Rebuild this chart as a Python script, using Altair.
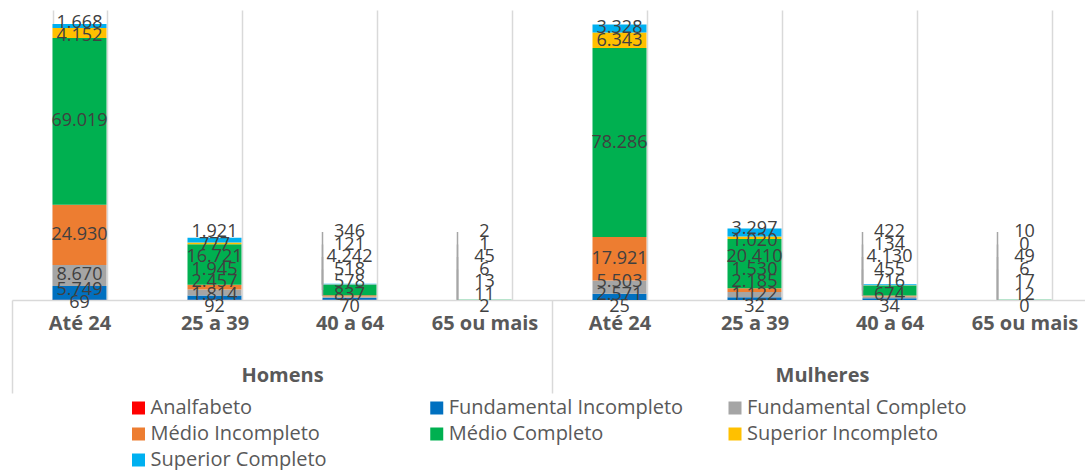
import altair as alt
import pandas as pd

# ---- data -------------------------------------------------------------
groups = ["Homens", "Mulheres"]
ages = ["Até 24", "25 a 39", "40 a 64", "65 ou mais"]
levels = [
    "Analfabeto",
    "Fundamental Incompleto",
    "Fundamental Completo",
    "Médio Incompleto",
    "Médio Completo",
    "Superior Incompleto",
    "Superior Completo",
]
colors = ["#FF0000", "#0070C0", "#A5A5A5", "#ED7D31", "#00B050", "#FFC000", "#00B0F0"]

# values per age bracket, in the order of `levels`
homens_ate24 = [69, 5749, 8670, 24930, 69019, 4152, 1668]
homens_25_39 = [92, 1814, 2457, 1945, 16721, 777, 1921]
homens_40_64 = [70, 837, 578, 518, 4242, 121, 346]
homens_65 = [2, 11, 13, 6, 45, 1, 2]

mulheres_ate24 = [25, 2571, 5503, 17921, 78286, 6343, 3328]
mulheres_25_39 = [32, 1122, 2185, 1530, 20410, 1020, 3297]
mulheres_40_64 = [34, 674, 716, 455, 4130, 134, 422]
mulheres_65 = [0, 12, 17, 6, 49, 0, 10]

series = {
    "Homens": [homens_ate24, homens_25_39, homens_40_64, homens_65],
    "Mulheres": [mulheres_ate24, mulheres_25_39, mulheres_40_64, mulheres_65],
}

# ---- layout -------------------------------------------------------------
PLOT_W = 1080         # the last few pixels run past the right edge of the view
PLOT_H = 290
Y_MAX = 120000
LABEL_GAP = 12.5      # minimum vertical distance between labels (px)
LABEL_FLOOR = -7      # lowest label centre, relative to the baseline (px)
LEADER_MIN = 25       # draw a leader line when a label moved further than this (px)
LEGEND_COLS = 3
FONT = "Open Sans"
AXIS_GREY = "#595959"
LINE_GREY = "#d9d9d9"

px_per_unit = PLOT_H / Y_MAX


def fmt(v):
    return f"{v:,}".replace(",", ".")


def spread_labels(ideal, gap, floor):
    """Least-squares placement keeping labels `gap` apart and above `floor`."""
    q = [v - i * gap for i, v in enumerate(ideal)]
    blocks = []
    for v in q:
        blocks.append([v, 1])
        while len(blocks) > 1 and blocks[-2][0] / blocks[-2][1] > blocks[-1][0] / blocks[-1][1]:
            s, c = blocks.pop()
            blocks[-1][0] += s
            blocks[-1][1] += c
    out = []
    for s, c in blocks:
        out += [max(s / c, floor)] * c
    return [v + i * gap for i, v in enumerate(out)]


rows = []
keys = []
for g in groups:
    for a, vals in zip(ages, series[g]):
        key = f"{g}|{a}"
        keys.append(key)
        base = 0
        mids = []
        for v in vals:
            mids.append((base + v / 2) * px_per_unit)
            base += v
        placed = spread_labels(mids, LABEL_GAP, LABEL_FLOOR)
        for rank, (lvl, v, m, p) in enumerate(zip(levels, vals, mids, placed)):
            rows.append(
                dict(
                    key=key,
                    group=g,
                    age=a,
                    level=lvl,
                    rank=rank,
                    value=v,
                    label=fmt(v),
                    ideal_y=m / px_per_unit,
                    label_y=p / px_per_unit,
                    leader=abs(p - m) > LEADER_MIN,
                )
            )

df = pd.DataFrame(rows)
leaders = df[df["leader"]]
group_df = pd.DataFrame({"group": groups})
legend_df = pd.DataFrame(
    {
        "level": levels,
        "col": [i % LEGEND_COLS for i in range(len(levels))],
        "row": [i // LEGEND_COLS for i in range(len(levels))],
    }
)

x_scale = alt.Scale(domain=keys, paddingInner=0.6, paddingOuter=0.3)
y_scale = alt.Scale(domain=[0, Y_MAX], nice=False, zero=True)
color_scale = alt.Scale(domain=levels, range=colors)

x_axis = alt.Axis(
    title=None,
    labelExpr="split(datum.label, '|')[1]",
    labelAngle=0,
    labelFont=FONT,
    labelFontSize=20,
    labelFontWeight="bold",
    labelColor=AXIS_GREY,
    labelPadding=13,
    tickBand="extent",
    ticks=False,
    grid=True,
    gridColor=LINE_GREY,
    gridWidth=1.5,
    domainColor=LINE_GREY,
    domainWidth=1.5,
)

bars = (
    alt.Chart(df)
    .mark_bar()
    .encode(
        x=alt.X("key:N", scale=x_scale, axis=x_axis, sort=keys),
        y=alt.Y("value:Q", stack="zero", scale=y_scale, axis=None),
        color=alt.Color("level:N", scale=color_scale, legend=None),
        order=alt.Order("rank:Q", sort="ascending"),
    )
)

labels = (
    alt.Chart(df)
    .mark_text(font=FONT, fontSize=18, color="#404040", baseline="middle")
    .encode(
        x=alt.X("key:N", scale=x_scale, axis=x_axis, sort=keys),
        y=alt.Y("label_y:Q", scale=y_scale, axis=None),
        text="label:N",
    )
)

leader_lines = (
    alt.Chart(leaders)
    .mark_rule(color="#a6a6a6", strokeWidth=1.5)
    .encode(
        x=alt.X("key:N", scale=x_scale, axis=x_axis, sort=keys, bandPosition=0),
        y=alt.Y("label_y:Q", scale=y_scale, axis=None),
        y2="ideal_y:Q",
    )
)

# outer category level: Homens / Mulheres with long separators
group_axis = (
    alt.Chart(group_df)
    .mark_point(opacity=0)
    .encode(
        x=alt.X(
            "group:N",
            sort=groups,
            scale=alt.Scale(domain=groups, paddingInner=0, paddingOuter=0),
            axis=alt.Axis(
                orient="bottom",
                title=None,
                labelAngle=0,
                labelFont=FONT,
                labelFontSize=20,
                labelFontWeight="bold",
                labelColor=AXIS_GREY,
                tickBand="extent",
                ticks=True,
                tickSize=93,
                tickColor=LINE_GREY,
                tickWidth=1.5,
                labelPadding=-28,
                domain=False,
                grid=False,
            ),
        ),
        y=alt.value(0),
    )
)

# legend: three columns of swatches under the chart
leg_x = alt.X("col:O", scale=alt.Scale(type="point", domain=[0, 1, 2], range=[126.5, 723], padding=0), axis=None)
leg_y = alt.Y("row:O", scale=alt.Scale(type="point", domain=[0, 1, 2], range=[398, 450], padding=0), axis=None)

legend_swatches = (
    alt.Chart(legend_df)
    .mark_square(size=169, opacity=1)
    .encode(x=leg_x, y=leg_y, color=alt.Color("level:N", scale=color_scale, legend=None))
)
legend_names = (
    alt.Chart(legend_df)
    .mark_text(font=FONT, fontSize=20, color=AXIS_GREY, align="left", baseline="middle", dx=12)
    .encode(x=leg_x, y=leg_y, text="level:N")
)
legend = alt.layer(legend_swatches, legend_names)

chart = (
    alt.layer(alt.layer(bars, leader_lines, labels), group_axis, legend)
    .resolve_scale(x="independent", y="independent")
    .properties(
        width=PLOT_W,
        height=PLOT_H,
        autosize=alt.AutoSizeParams(type="none"),
        padding={"left": 12, "top": 10, "right": -7, "bottom": 170},
    )
    .configure(font=FONT)
    .configure_view(stroke=None)
)

chart.save("out.html", embed_options={"renderer": "svg", "actions": False})
